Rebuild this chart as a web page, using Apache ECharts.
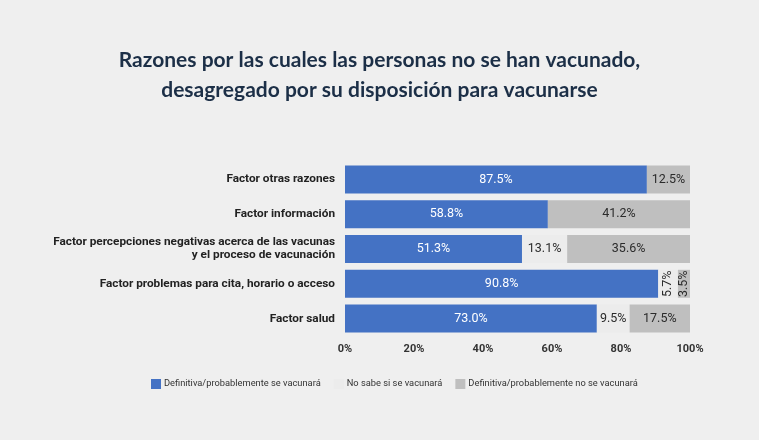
<!DOCTYPE html>
<html><head><meta charset="utf-8">
<script src="https://cdn.jsdelivr.net/npm/echarts@6/dist/echarts.min.js"></script>
<style>html,body{margin:0;padding:0;background:#efefef}#c{width:759px;height:440px}</style>
</head><body><div id="c"></div>
<script>
const categories = ["Factor otras razones","Factor información","Factor percepciones negativas acerca de las vacunas\ny el proceso de vacunación","Factor problemas para cita, horario o acceso","Factor salud"];
const seriesNames = ["Definitiva/probablemente se vacunará","No sabe si se vacunará","Definitiva/probablemente no se vacunará"];
const siVacunara = [87.5, 58.8, 51.3, 90.8, 73.0];
const noSabe = [0, 0, 13.1, 5.7, 9.5];
const noVacunara = [12.5, 41.2, 35.6, 3.5, 17.5];
const xTicks = [0,20,40,60,80,100];
const colors = ["#4472c4","#ececec","#bfbfbf"];
const labelColors = ["#ffffff","#2b2b2b","#2b2b2b"];
const rotatedRow = 3;

function mkData(arr){
  return arr.map((v,i)=>{
    if(v===0) return {value:v, label:{show:false}};
    if(i===rotatedRow && arr!==siVacunara) return {value:v, label:{rotate:90}};
    return v;
  });
}
const chart = echarts.init(document.getElementById('c'));
const all=[siVacunara,noSabe,noVacunara];
chart.setOption({
  backgroundColor:'#efefef',
  animation:false,
  title:{text:"Razones por las cuales las personas no se han vacunado,\ndesagregado por su disposición para vacunarse",
    left:'center', top:40, textStyle:{fontFamily:'Lato', fontWeight:'bold', fontSize:21, color:'#1c2f47', lineHeight:30}},
  legend:{data:seriesNames, left:146, top:374, itemWidth:10, itemHeight:10, itemGap:13,
    textStyle:{fontFamily:'Roboto', fontSize:9.3, color:'#333', padding:[0,0,0,-2]}, icon:'rect'},
  grid:{left:345, right:69, top:162, bottom:104, containLabel:false},
  xAxis:{type:'value', min:0, max:100, interval:20,
    axisLabel:{formatter:v=>v+'%', fontFamily:'Roboto', fontWeight:'bold', fontSize:11, color:'#333', margin:8},
    splitLine:{show:false}, axisLine:{show:false}, axisTick:{show:false}},
  yAxis:{type:'category', data:categories, inverse:true,
    axisLabel:{fontFamily:'Roboto', fontWeight:'bold', fontSize:11.8, color:'#222', margin:10, lineHeight:13},
    axisLine:{show:false}, axisTick:{show:false}},
  series: seriesNames.map((n,k)=>({
    name:n, type:'bar', stack:'t', barWidth:28,
    itemStyle:{color:colors[k]},
    label:{show:true, position:'inside', formatter:p=>p.value.toFixed(1)+'%', color:labelColors[k], fontFamily:'Roboto', fontSize:12.5},
    data:mkData(all[k])
  }))
});
</script></body></html>
